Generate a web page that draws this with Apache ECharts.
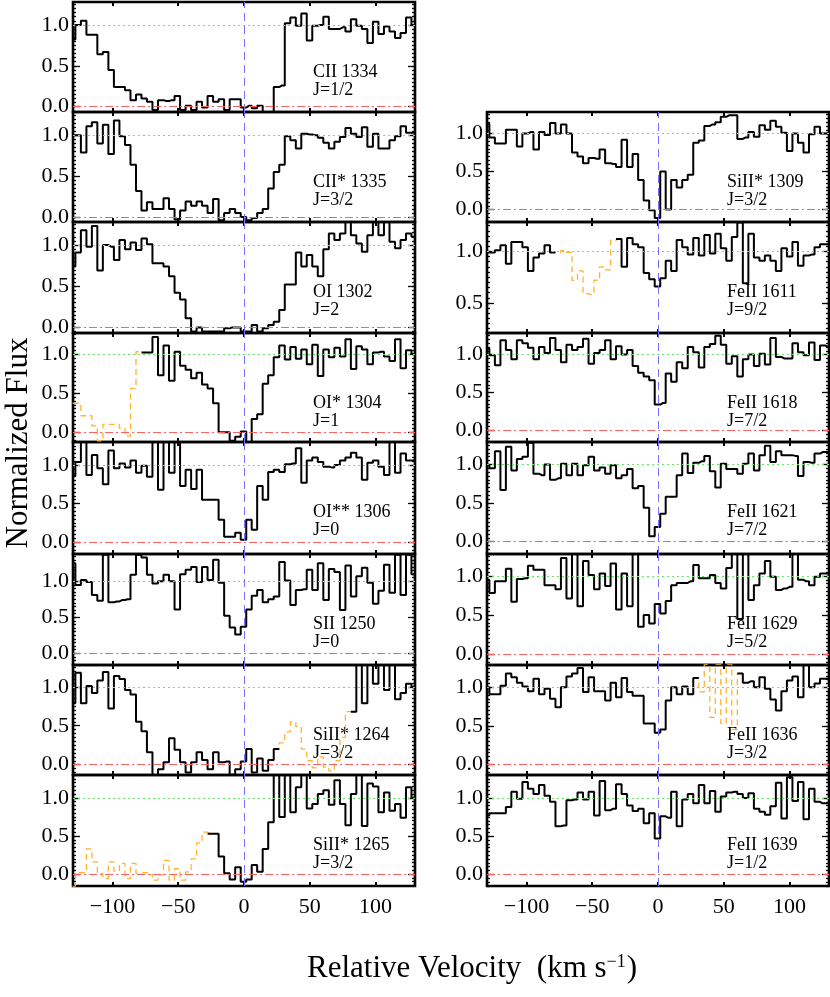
<!DOCTYPE html>
<html lang="en">
<head>
<meta charset="UTF-8">
<title>Velocity profiles</title>
<script src="https://cdn.jsdelivr.net/npm/echarts@6/dist/echarts.min.js"></script>
<style>
  html, body { margin: 0; padding: 0; background: #fff; }
  #chart { width: 830px; height: 997px; }
</style>
</head>
<body>
<div id="chart"></div>
<script>
// bin centres, km/s
var velocity = [-130.3,-126.1,-121.9,-117.7,-113.6,-109.4,-105.2,-101.0,-96.8,-92.6,
  -88.4,-84.2,-80.0,-75.9,-71.7,-67.5,-63.3,-59.1,-54.9,-50.7,
  -46.5,-42.3,-38.1,-34.0,-29.8,-25.6,-21.4,-17.2,-13.0,-8.8,
  -4.6,-0.4,3.8,7.9,12.1,16.3,20.5,24.7,28.9,33.1,
  37.3,41.5,45.6,49.8,54.0,58.2,62.4,66.6,70.8,75.0,
  79.2,83.3,87.5,91.7,95.9,100.1,104.3,108.5,112.7,116.9,
  121.1,125.2,129.4];

// normalized flux per transition
var fluxCII1334 = [0.82,1.0,1.05,0.88,0.88,0.64,0.67,0.45,0.24,0.24,
  0.2,0.08,0.15,0.1,0.06,-0.04,0.08,0.07,0.08,0.13,
  -0.04,0.01,-0.04,0.06,-0.01,0.13,0.06,0.09,-0.04,0.09,
  0.09,-0.01,0.01,-0.02,0.01,-0.07,-0.07,0.24,0.26,1.02,
  1.09,0.99,1.14,0.81,0.99,1.0,1.1,0.95,0.95,0.97,
  0.92,1.07,0.99,0.95,0.78,1.04,0.89,0.98,0.92,0.84,
  0.9,1.09,1.0];
var fluxCIIs1335 = [1.0,1.0,0.79,1.11,1.16,0.9,1.13,0.77,1.18,0.99,
  0.88,0.64,0.32,0.08,0.18,0.1,0.1,0.23,0.1,-0.03,
  0.08,0.19,0.14,0.19,0.14,0.05,0.22,-0.04,0.05,0.1,
  0.05,0.0,-0.04,-0.01,0.05,0.1,0.35,0.55,0.64,0.99,
  0.94,0.84,1.02,1.01,1.0,0.97,0.91,0.84,0.92,0.98,
  1.09,1.02,0.98,1.1,0.86,1.02,0.84,0.84,0.94,0.99,
  1.11,1.03,1.03];
var fluxOI1302 = [0.74,0.91,1.18,0.98,1.23,0.69,1.0,0.98,0.82,1.06,
  0.95,1.03,0.94,1.08,1.01,0.78,0.78,0.74,0.62,0.42,
  0.34,0.11,-0.05,0.0,-0.05,-0.05,-0.05,-0.05,-0.01,0.0,
  0.0,-0.05,-0.05,0.03,-0.05,-0.01,0.03,0.07,0.21,0.52,
  0.52,0.91,0.74,0.88,0.74,0.62,0.95,1.14,1.06,1.14,
  1.3,1.12,1.02,0.92,1.12,1.3,1.12,1.3,1.04,0.96,
  1.06,1.14,1.1];
var fluxOIs1304 = [0.37,0.37,0.21,0.21,0.08,-0.11,0.1,0.1,0.1,0.05,
  -0.05,0.56,1.03,1.02,1.02,1.22,0.73,1.11,0.66,1.03,
  0.85,0.8,0.69,0.76,0.61,0.56,0.37,0.0,0.0,-0.11,
  -0.06,0.01,-0.13,0.17,0.23,0.62,0.73,0.96,1.11,0.93,
  1.09,0.94,1.06,0.87,1.12,0.72,1.06,0.96,1.08,0.97,
  1.19,0.81,1.1,1.06,0.87,1.02,1.03,0.97,0.91,1.19,
  0.82,1.05,1.0];
var fluxOIss1306 = [0.86,1.04,1.32,0.87,1.13,0.96,0.75,1.19,0.96,1.02,
  0.97,1.06,0.9,0.99,0.85,1.32,0.68,1.32,0.9,1.32,
  0.73,0.94,0.69,0.94,0.55,0.55,0.55,0.29,0.07,0.07,
  0.12,0.03,0.29,0.16,0.73,0.55,0.91,0.94,0.91,1.01,
  1.02,1.22,0.77,1.06,1.1,1.04,0.98,0.97,1.0,1.06,
  1.1,1.16,1.1,0.81,1.03,1.06,0.98,0.87,1.32,0.9,
  1.15,1.06,1.06];
var fluxSII1250 = [1.25,0.95,1.02,0.99,0.81,0.73,1.37,0.71,0.72,0.74,
  0.75,1.09,1.37,1.33,1.09,0.97,1.0,1.09,1.0,0.61,
  1.1,1.16,1.2,0.99,1.2,1.02,1.3,0.98,0.52,0.36,
  0.26,0.37,0.61,0.8,0.88,0.71,0.75,0.79,1.27,1.01,
  0.67,0.88,0.89,1.16,0.88,1.25,0.74,1.17,1.13,0.6,
  1.22,0.79,1.07,1.19,0.98,0.69,0.87,1.23,0.84,1.37,
  0.81,1.37,1.1];
var fluxSiIIs1264 = [0.79,1.18,0.79,1.01,0.92,1.08,1.19,0.72,1.14,1.1,
  0.96,0.9,0.55,0.43,0.16,-0.14,-0.06,0.03,0.34,0.19,
  0.03,-0.1,0.03,0.16,0.06,-0.06,0.16,0.03,0.04,-0.13,
  -0.06,0.04,0.2,-0.1,0.08,-0.08,0.06,0.2,0.28,0.42,
  0.55,0.49,0.2,0.05,-0.04,0.1,-0.03,-0.08,0.05,0.35,
  0.68,0.68,1.32,0.79,1.32,1.04,1.32,0.96,1.32,0.84,
  0.92,1.04,1.0];
var fluxSiIIs1265 = [-0.16,0.02,0.02,0.33,0.16,0.01,-0.06,0.16,0.04,0.14,
  -0.06,0.14,0.01,0.02,-0.01,-0.08,-0.01,0.18,-0.08,0.07,
  -0.08,0.03,0.2,0.41,0.55,0.53,0.53,0.23,0.01,-0.07,
  0.09,-0.1,-0.07,0.12,0.03,0.33,0.68,1.3,0.75,1.3,
  0.81,1.14,1.3,0.86,0.92,1.05,1.1,0.91,1.23,0.92,
  0.64,1.05,1.3,0.63,1.19,1.15,0.81,1.07,0.83,0.92,
  0.74,1.14,1.0];
var fluxSiIIs1309 = [1.13,0.95,0.87,0.87,1.05,1.05,0.83,1.0,1.02,0.79,
  1.02,0.98,1.14,1.0,1.12,1.0,0.75,0.7,0.61,0.68,
  0.67,0.79,0.61,0.6,0.56,0.92,0.56,0.73,0.39,0.12,
  -0.01,-0.11,0.5,0.0,0.39,0.29,0.39,0.46,0.88,0.91,
  1.1,1.12,1.15,1.22,1.24,1.24,0.93,0.95,1.02,0.96,
  1.11,1.05,1.17,1.09,1.01,0.77,1.0,0.88,0.75,0.99,
  1.09,1.0,1.0];
var fluxFeII1611 = [0.99,0.99,1.01,1.06,0.88,1.09,1.09,1.04,0.81,0.94,
  0.98,1.06,0.99,0.99,1.01,0.99,0.72,0.81,0.59,0.58,
  0.72,0.85,0.82,1.11,1.12,0.85,1.13,1.07,1.04,0.79,
  0.73,0.66,0.74,0.91,0.81,1.11,1.04,0.97,1.13,0.96,
  1.16,0.98,1.17,1.03,0.91,1.14,1.28,0.69,1.17,0.94,
  0.91,0.96,0.91,0.81,1.03,0.95,1.09,0.86,0.96,0.97,
  1.04,1.07,1.07];
var fluxFeII1618 = [1.08,0.99,0.86,1.19,1.06,0.94,1.19,1.15,1.09,0.94,
  1.1,1.02,1.22,1.06,0.9,1.13,1.06,1.1,1.21,0.88,
  1.02,1.06,1.19,0.94,1.11,1.0,1.06,0.85,0.76,0.71,
  0.66,0.34,0.36,0.75,0.64,0.9,0.82,1.1,1.03,0.83,
  1.1,1.14,1.25,1.13,0.88,0.98,0.71,0.94,1.0,0.85,
  1.01,0.87,1.22,0.97,0.95,0.95,1.15,1.03,0.99,1.16,
  0.93,1.12,1.1];
var fluxFeII1621 = [0.99,0.95,1.17,0.67,1.23,0.92,1.07,1.1,1.28,0.88,
  0.86,1.0,0.8,0.82,1.01,0.86,1.01,0.86,0.99,1.1,
  0.92,0.96,0.88,0.99,0.82,0.86,0.94,0.69,0.72,0.44,
  0.07,0.19,0.36,0.58,0.58,0.86,1.14,0.89,1.02,1.04,
  1.11,0.91,0.7,1.01,0.94,0.94,0.88,1.01,1.14,0.92,
  1.12,1.24,1.03,1.17,1.12,1.12,1.11,0.85,1.03,1.02,
  1.14,1.16,1.16];
var fluxFeII1629 = [0.95,0.78,0.93,0.93,1.09,0.67,0.96,0.97,1.13,1.08,
  1.08,0.88,0.88,0.83,1.23,0.71,1.3,0.61,1.19,1.01,
  0.83,1.03,0.87,1.16,0.57,1.03,0.61,1.3,0.35,0.5,
  0.39,0.64,0.52,0.68,0.88,0.91,0.91,0.93,1.14,0.97,
  0.97,1.01,0.91,0.84,1.1,1.3,0.45,1.3,0.69,0.88,
  1.03,1.19,0.99,0.82,0.84,0.86,1.3,0.95,0.93,0.88,
  0.99,1.03,1.03];
var fluxFeII1636 = [1.0,0.91,0.91,1.02,1.18,1.13,1.06,1.01,0.95,1.11,
  0.91,0.98,0.85,0.74,1.0,1.14,1.18,1.25,0.94,1.13,
  0.95,0.95,0.83,1.06,0.87,1.12,0.94,0.89,0.89,0.53,
  0.53,0.41,0.45,0.83,1.0,0.91,1.01,0.91,1.12,0.94,
  1.3,0.61,1.3,0.53,1.3,0.45,1.18,1.06,1.08,1.0,
  1.13,0.98,0.84,0.7,0.95,1.09,1.14,0.87,1.3,1.0,
  1.05,1.11,1.11];
var fluxFeII1639 = [0.77,0.8,0.8,0.8,0.88,1.08,0.99,1.21,1.12,1.05,
  1.17,1.03,0.95,0.63,0.64,0.97,0.98,1.07,0.98,1.08,
  0.77,1.22,0.84,0.86,1.18,1.05,0.9,0.83,0.86,0.67,
  0.8,0.47,0.76,0.74,1.08,0.63,0.98,1.05,0.93,1.17,
  0.93,1.09,0.82,1.02,1.07,1.08,1.05,1.0,1.06,0.86,
  0.82,0.78,0.89,1.2,0.73,1.27,0.96,1.21,0.72,1.12,
  0.95,0.93,0.93];

var lineNames = ['CII 1334','CII* 1335','OI 1302','OI* 1304','OI** 1306','SII 1250','SiII* 1264','SiII* 1265',
  'SiII* 1309','FeII 1611','FeII 1618','FeII 1621','FeII 1629','FeII 1636','FeII 1639'];
var jLabels = ['J=1/2','J=3/2','J=2','J=1','J=0','J=0','J=3/2','J=3/2',
  'J=3/2','J=9/2','J=7/2','J=7/2','J=5/2','J=3/2','J=1/2'];
var fluxes = [fluxCII1334,fluxCIIs1335,fluxOI1302,fluxOIs1304,fluxOIss1306,fluxSII1250,fluxSiIIs1264,fluxSiIIs1265,
  fluxSiIIs1309,fluxFeII1611,fluxFeII1618,fluxFeII1621,fluxFeII1629,fluxFeII1636,fluxFeII1639];
// bin index ranges drawn as blended (dashed orange)
var blends = [null,null,null,[0,13],null,null,[37,51],[0,25],null,[12,24],null,null,null,[38,46],null];
var yLow = [-0.065,-0.06,-0.068,-0.126,-0.155,-0.163,-0.133,-0.156,-0.163,0.208,-0.156,-0.16,-0.14,-0.14,-0.152];
var yHigh = [1.28,1.285,1.28,1.27,1.30,1.38,1.28,1.30,1.284,1.285,1.286,1.29,1.28,1.29,1.30];
var xTicks = [-100,-50,0,50,100];
var yTicks = [0,0.5,1.0];

// layout
var colLeft = [73, 487], colWidth = 342;
var rowTops = [2,112,222,333,442,554,665,775], plotBottom = 886;
var serif = '"Liberation Serif", "Times New Roman", serif';

var grids = [], xAxes = [], yAxes = [], series = [], graphics = [];

function minorTicks(lo, hi) {
  var out = [];
  for (var k = Math.ceil(lo / 0.05 - 1e-6); k * 0.05 <= hi + 1e-6; k++) out.push(Math.round(k * 5) / 100);
  return out;
}

fluxes.forEach(function (flux, p) {
  var col = p < 8 ? 0 : 1;
  var row = p < 8 ? p : p - 7;
  var top = rowTops[row];
  var bottom = row < 7 ? rowTops[row + 1] : plotBottom;
  var isBottom = (p === 7 || p === 14);
  grids.push({left: colLeft[col], top: top, width: colWidth, height: bottom - top,
    show: true, borderColor: '#000', borderWidth: 2.6, backgroundColor: 'transparent'});

  ['bottom', 'top'].forEach(function (pos) {
    xAxes.push({gridIndex: p, type: 'value', min: -130, max: 130, position: pos,
      axisLine: {show: false, onZero: false}, splitLine: {show: false},
      axisTick: {inside: true, length: 4, customValues: xTicks, lineStyle: {color: '#000', width: 2}},
      axisLabel: {show: isBottom && pos === 'bottom', customValues: xTicks, margin: 10,
        color: '#000', fontFamily: serif, fontSize: 22,
        formatter: function (v) { return v < 0 ? '\u2212' + (-v) : String(v); }}});
  });
  var ticks = minorTicks(yLow[p], yHigh[p]);
  var labels = yTicks.filter(function (v) { return v >= yLow[p] && v <= yHigh[p]; });
  // minor ticks on both sides, then longer major ticks on both sides
  [['left', ticks, 3, true], ['right', ticks, 3, false], ['left', labels, 7, false], ['right', labels, 7, false]]
    .forEach(function (a) {
      yAxes.push({gridIndex: p, type: 'value', min: yLow[p], max: yHigh[p], position: a[0],
        axisLine: {show: false, onZero: false}, splitLine: {show: false},
        axisTick: {inside: true, length: a[2], customValues: a[1], lineStyle: {color: '#000', width: 1.3}},
        axisLabel: {show: a[3], customValues: labels, margin: 4,
          color: '#000', fontFamily: serif, fontSize: 22,
          formatter: function (v) { return v.toFixed(1); }}});
    });

  var blend = blends[p];
  var black = velocity.map(function (v, i) {
    var inBlend = blend && i > blend[0] && i < blend[1];
    if (blend && blend[0] === 0 && i === 0) inBlend = true;
    return [v, inBlend ? '-' : flux[i]];
  });
  var refs = [{yAxis: 1, lineStyle: {color: '#66E866', type: [2, 3], width: 1}},
              {xAxis: 0, lineStyle: {color: '#7373FF', type: [8, 5], width: 1}}];
  if (yLow[p] < 0) refs.push({yAxis: 0, lineStyle: {color: '#FF5F5F', type: [8, 3, 2, 3], width: 1}});
  series.push({type: 'line', xAxisIndex: 2 * p, yAxisIndex: 4 * p, step: 'middle', symbol: 'none',
    data: black, lineStyle: {color: '#000', width: 2}, z: 3, animation: false,
    markLine: {silent: true, symbol: 'none', label: {show: false}, animation: false, data: refs}});
  if (blend) {
    var orange = velocity.map(function (v, i) {
      return [v, (i >= blend[0] && i <= blend[1]) ? flux[i] : '-'];
    });
    series.push({type: 'line', xAxisIndex: 2 * p, yAxisIndex: 4 * p, step: 'middle', symbol: 'none',
      data: orange, lineStyle: {color: '#FFB334', width: 1.3, type: [6, 4]}, z: 2, animation: false});
  }

  [lineNames[p], jLabels[p]].forEach(function (t, k) {
    graphics.push({type: 'text', x: colLeft[col] + 240, y: top + 70 + k * 18.5,
      style: {text: t, fill: '#000', font: '18px ' + serif, textVerticalAlign: 'middle', verticalAlign: 'middle'}});
  });
});

graphics.push({type: 'text', x: 19, y: 443, rotation: Math.PI / 2,
  style: {text: 'Normalized Flux', fill: '#000', font: '31px ' + serif,
    textAlign: 'center', align: 'center', textVerticalAlign: 'middle', verticalAlign: 'middle'}});
graphics.push({type: 'text', x: 472, y: 969,
  style: {text: 'Relative Velocity  (km s{sup|\u22121})', fill: '#000', font: '31px ' + serif,
    textAlign: 'center', align: 'center', textVerticalAlign: 'middle', verticalAlign: 'middle',
    rich: {sup: {fontSize: 18, fontFamily: serif, verticalAlign: 'top', padding: [0, 1, 12, 0]}}}});

var chart = echarts.init(document.getElementById('chart'), null, {renderer: 'canvas'});
chart.setOption({
  animation: false,
  backgroundColor: '#fff',
  grid: grids,
  xAxis: xAxes,
  yAxis: yAxes,
  series: series,
  graphic: graphics
});
</script>
</body>
</html>
